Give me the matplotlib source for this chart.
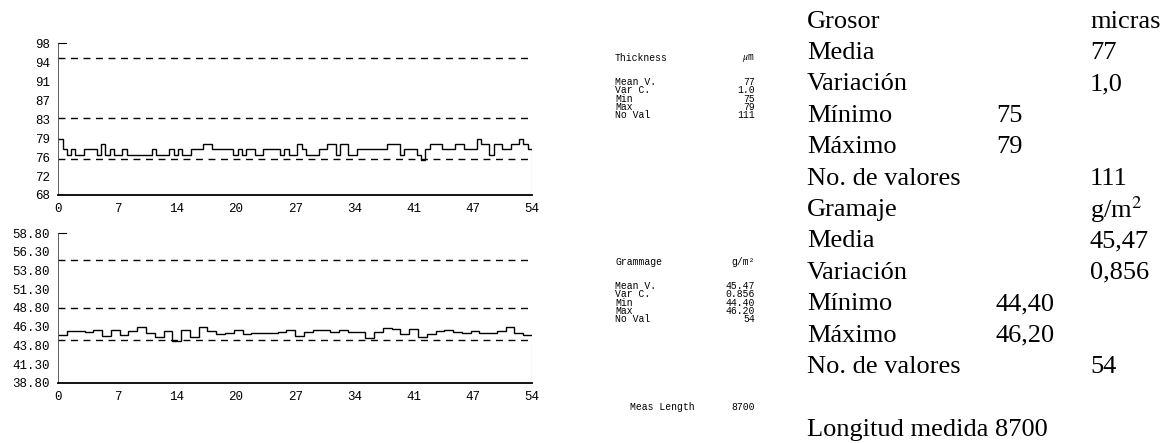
import numpy as np
import matplotlib.pyplot as plt

# thickness profile (um), 111 readings over the 54 positions
thickness = [79, 77, 76, 77, 76, 76, 77, 77, 77, 76,
             78, 76, 77, 76, 76, 77, 76, 76, 76, 76,
             76, 76, 77, 76, 76, 76, 77, 76, 77, 76,
             76, 77, 77, 77, 78, 78, 77, 77, 77, 77,
             77, 76, 77, 76, 77, 77, 76, 76, 77, 77,
             77, 77, 76, 77, 76, 76, 78, 77, 76, 76,
             76, 77, 77, 78, 78, 76, 78, 78, 76, 76,
             77, 77, 77, 77, 77, 77, 77, 78, 78, 78,
             76, 77, 77, 77, 76, 75, 77, 78, 78, 78,
             77, 77, 77, 78, 78, 77, 77, 77, 79, 78,
             78, 76, 78, 78, 77, 77, 78, 78, 79, 78,
             77]

# grammage profile (g/m2), one reading per position
grammage = [45.2, 45.7, 45.7, 45.6, 45.9, 45.1, 45.8, 45.2, 45.7, 46.2,
            45.4, 44.9, 45.7, 44.4, 45.8, 44.9, 46.2, 45.7, 45.3, 45.5,
            45.8, 45.3, 45.5, 45.4, 45.5, 45.6, 45.9, 45.1, 45.6, 45.85,
            45.9, 45.6, 45.9, 45.55, 45.6, 44.75, 45.6, 46.1, 46.0, 45.35,
            45.95, 44.95, 45.3, 45.7, 45.9, 45.65, 45.4, 45.7, 45.4, 45.4,
            45.75, 46.2, 45.45, 45.2]

x_labels = ['0', '7', '14', '20', '27', '34', '41', '47', '54']
thick_labels = ['68', '72', '76', '79', '83', '87', '91', '94', '98']
gram_labels = ['38.80', '41.30', '43.80', '46.30', '48.80',
               '51.30', '53.80', '56.30', '58.80']
thick_limits = [95.1, 83.2, 75.1]
gram_limits = [55.2, 48.8, 44.5]

thick_stats = [('Mean V.', '77'), ('Var C.', '1.0'), ('Min', '75'),
               ('Max', '79'), ('No Val', '111')]
gram_stats = [('Mean V.', '45.47'), ('Var C.', '0.856'), ('Min', '44.40'),
              ('Max', '46.20'), ('No Val', '54')]

es_rows = [('Grosor', '', 'micras'), ('Media', '', '77'),
           ('Variación', '', '1,0'), ('Mínimo', '75', ''),
           ('Máximo', '79', ''), ('No. de valores', '', '111'),
           ('Gramaje', '', 'g/m$^2$'), ('Media', '', '45,47'),
           ('Variación', '', '0,856'), ('Mínimo', '44,40', ''),
           ('Máximo', '46,20', ''), ('No. de valores', '', '54')]

W, H = 1168, 443
plt.rcParams['mathtext.fontset'] = 'stix'
fig = plt.figure(figsize=(W / 100, H / 100), dpi=100)
mono = 'Liberation Mono'
serif = 'Liberation Serif'


def px(x, y):
    return x / W, 1 - y / H


def profile(rect, values, ylim, labels, limits):
    ax = fig.add_axes(rect)
    edges = np.linspace(0, 54, len(values) + 1)
    ax.stairs(values, edges, color='black', lw=1.0, baseline=None)
    ax.vlines(54, ylim[0], values[-1], colors='black', lw=0.8,
              linestyles=(0, (1, 1.5)))
    for v in limits:
        ax.hlines(v, 0, 54, colors='black', lw=1.0, linestyles=(0, (5, 4)))
    ax.set_xlim(0, 54)
    ax.set_ylim(*ylim)
    ax.set_xticks(np.linspace(0, 54, 9))
    ax.set_xticklabels(x_labels)
    ax.set_yticks(np.linspace(ylim[0], ylim[1], 9))
    ax.set_yticklabels(labels)
    for s in ['top', 'right']:
        ax.spines[s].set_visible(False)
    ax.spines['left'].set_linewidth(0.6)
    ax.spines['left'].set_color('#444444')
    ax.spines['bottom'].set_linewidth(1.3)
    ax.tick_params(length=0, pad=6, labelsize=9)
    for t in ax.get_xticklabels() + ax.get_yticklabels():
        t.set_fontfamily(mono)
    ax.plot([0, 0.9], [ylim[1], ylim[1]], color='black', lw=0.8,
            clip_on=False)
    return ax


profile([58.3 / W, 1 - 195 / H, 473.7 / W, 151.7 / H], thickness,
        (68, 98), thick_labels, thick_limits)
profile([58.3 / W, 1 - 382.7 / H, 473.7 / W, 149.4 / H], grammage,
        (38.8, 58.8), gram_labels, gram_limits)

# printed summary next to the charts
fs = 7


def stat_block(y0, title, unit, rows):
    fig.text(*px(615, y0), title, family=mono, fontsize=fs, va='center')
    fig.text(*px(755, y0), unit, family=mono, fontsize=fs, va='center',
             ha='right')
    for i, (name, val) in enumerate(rows):
        y = y0 + 24 + 8.3 * i
        fig.text(*px(615, y), name, family=mono, fontsize=fs, va='center')
        fig.text(*px(755, y), val, family=mono, fontsize=fs, va='center',
                 ha='right')


stat_block(58, 'Thickness', r'$\mu$m', thick_stats)
stat_block(262, 'Grammage', 'g/m²', gram_stats)
fig.text(*px(630, 407), 'Meas Length', family=mono, fontsize=fs,
         va='center')
fig.text(*px(755, 407), '8700', family=mono, fontsize=fs, va='center',
         ha='right')

# Spanish translation column
for i, (name, mid, right) in enumerate(es_rows):
    y = 21.7 + 31.4 * i
    fig.text(*px(807, y), name, family=serif, fontsize=19, va='center')
    if mid:
        fig.text(*px(996, y), mid, family=serif, fontsize=19, va='center')
    if right:
        fig.text(*px(1090, y), right, family=serif, fontsize=19, va='center')
fig.text(*px(807, 430), 'Longitud medida 8700', family=serif, fontsize=19,
         va='center')

fig.savefig('out.png', dpi=100, facecolor='white')
